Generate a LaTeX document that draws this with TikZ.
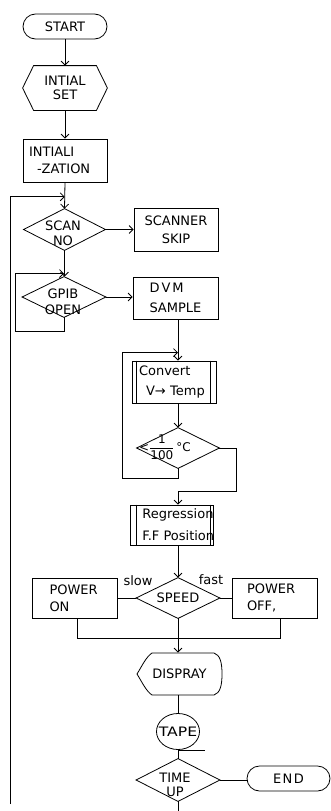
\documentclass[tikz,border=0pt]{standalone}
\usepackage{fontspec}
\usepackage{amsmath}
\usepackage{graphicx}
\setmainfont{DejaVu Sans}
\usetikzlibrary{arrows.meta,calc}
\newcommand\fz[2]{\fontsize{#1}{#2}\selectfont}
\newcommand\drawdiam[1]{\draw (#1.north) -- (#1.east) -- (#1.south) -- (#1.west) -- cycle;}
\begin{document}
\begin{tikzpicture}[x=1pt,y=-1pt,line width=0.8pt,
  arr/.style={-{Straight Barb[length=4pt,width=8pt]}},
  box/.style={draw, rectangle, inner sep=0pt, font=\fz{13}{18}},
  hid/.style={rectangle, inner sep=0pt, font=\fz{13}{16}},
  txt/.style={inner sep=0pt, align=center, font=\fz{13}{16}},
  term/.style={draw, rectangle, rounded corners=12.5pt, inner sep=0pt, font=\fz{13}{16}}]
\useasboundingbox (0,0) rectangle (331,811);
\coordinate (spine) at (178,0);
% START
\node[term, minimum width=84pt, minimum height=25pt] (start) at (65,26.5) {START};
% INTIAL SET hexagon
\node[hid, minimum width=84pt, minimum height=44pt, align=center, font=\fz{13}{14}] (init) at (65,88) {INTIAL\\SET};
\draw (init.west) -- ([xshift=11pt]init.north west) -- ([xshift=-11pt]init.north east) -- (init.east)
  -- ([xshift=-11pt]init.south east) -- ([xshift=11pt]init.south west) -- cycle;
% INTIALIZATION
\node[box, minimum width=84pt, minimum height=43pt, text width=72pt, align=left, font=\fz{13}{17}] (initz) at (65,160.5) {INTIALI\\\hspace*{8pt}-ZATION};
% SCAN NO
\node[hid, minimum width=81pt, minimum height=41pt] (scan) at (64.5,229.5) {};
\drawdiam{scan}
\node[txt, font=\fz{13}{15}] (scant) at (63,233) {SCAN\\NO};
\node[box, minimum width=84pt, minimum height=43pt, align=center] (skip) at (176,229.5) {SCANNER\\SKIP};
% GPIB OPEN
\node[hid, minimum width=83pt, minimum height=40pt] (gpib) at (64,297) {};
\drawdiam{gpib}
\node[txt] (gpibt) at (63,302) {GPIB\\OPEN};
\node[box, minimum width=85pt, minimum height=42pt, text width=52pt, align=left, font=\fz{13}{20}] (dvm) at (175.5,298) {D\kern2pt V\kern2pt M\\SAMPLE};
% Convert
\node[box, minimum width=84pt, minimum height=42pt, text width=70pt, align=left, font=\fz{13}{20}] (conv) at (174,382) {Convert\\\hspace*{7pt}V→ Temp};
\draw ([xshift=5pt]conv.north west) -- ([xshift=5pt]conv.south west);
\draw ([xshift=-6pt]conv.north east) -- ([xshift=-6pt]conv.south east);
% < 1/100 C
\node[hid, minimum width=82pt, minimum height=40pt] (lim) at (178,448) {};
\drawdiam{lim}
\node[txt, font=\fz{12}{14}] (limt) at (165,447) {<$\dfrac{\text{1}}{\text{100}}$\,°C};
% Regression
\node[box, minimum width=83pt, minimum height=40pt] (regr) at (171.5,525) {};
\draw ([xshift=7pt]regr.north west) -- ([xshift=7pt]regr.south west);
\draw ([xshift=-3.5pt]regr.north east) -- ([xshift=-3.5pt]regr.south east);
\node[txt, anchor=west, align=left, font=\fz{13}{22}] (regrt) at (142,524.3) {Regression\\F.F Position};
% SPEED
\node[hid, minimum width=83pt, minimum height=40pt] (speed) at (178,598) {SPEED};
\drawdiam{speed}
\node[box, minimum width=85pt, minimum height=40pt, text width=50pt, align=left, font=\fz{13}{17}] (pon) at (74.5,598) {POWER\\ON};
\node[box, minimum width=85pt, minimum height=40pt, text width=55pt, align=left, font=\fz{13}{17}] (poff) at (274.5,598) {POWER\\OFF,};
\node[txt] (slow) at (138,581) {slow};
\node[txt] (fast) at (211,580) {fast};
% DISPRAY
\node[hid, minimum width=85pt, minimum height=42pt] (disp) at (178,674) {\hspace*{3pt}DISPRAY};
\draw ($(disp.center)+(-26,-21)$) -- ($(disp.center)+(36,-21)$)
  .. controls +(6,2) and +(0,-12) .. ($(disp.center)+(44,0)$)
  .. controls +(0,12) and +(6,-2) .. ($(disp.center)+(36,21)$)
  -- ($(disp.center)+(-26,21)$)
  .. controls +(-6,-4) and +(5,8) .. ($(disp.center)+(-41,0)$)
  .. controls +(5,-8) and +(-6,4) .. cycle;
% TAPE
\node[hid, minimum width=43pt, minimum height=36pt] (tape) at (178,731.5) {\scalebox{1.2}[1]{TAPE}};
\draw (tape.center) ellipse [x radius=21.5pt, y radius=18pt];
\draw (tape.south) -- ++(27,0);
% TIME UP
\node[hid, minimum width=83pt, minimum height=42pt] (timeup) at (178,780) {};
\drawdiam{timeup}
\node[txt, font=\fz{13}{14}] (timeupt) at (175,785.3) {TIME\\UP};
\node[term, minimum width=83pt, minimum height=25pt] (endn) at (288.5,778.5) {E\kern1.5pt N\kern1.5pt D};
% connectors
\coordinate (lb) at (10,804);
\coordinate (bot) at (178,811);
\draw[arr] (start.south) -- (init.north);
\draw[arr] (init.south) -- (initz.north);
\draw[arr] (initz.south) -- (scan.north);
\draw[arr] (lb) |- ($(initz.south)!0.55!(scan.north)$);
\draw[arr] (scan.east) -- (scan.east -| skip.west);
\draw[arr] (scan.south) -- (scan.south |- gpib.north);
\draw[arr] (gpib.south) -- ++(0,14) -| ($(gpib.west)+(-7,0)$) |- ($(gpib.north)+(0,-3)$);
\draw[arr] (gpib.east) -- (gpib.east -| dvm.west);
\draw[arr] (dvm.south -| spine) -- (conv.north -| spine);
\draw[arr] (lim.south) -- ++(0,10) -| ($(conv.west)+(-9,0)$) |- ($(conv.north -| spine)+(0,-8)$);
\draw[arr] (conv.south -| spine) -- (lim.north);
\draw[arr] (lim.east) -- ++(17,0) |- ($(regr.north -| spine)+(0,-13)$) -- (regr.north -| spine);
\draw[arr] (regr.south -| spine) -- (speed.north);
\draw (speed.west) -- (pon.east);
\draw (speed.east) -- (poff.west);
\draw ([xshift=2.5pt]pon.south) -- ++(0,20) -| ([xshift=5.5pt]poff.south);
\draw[arr] (speed.south) -- (disp.north);
\draw (disp.south) -- (tape.north);
\draw (tape.south) -- (timeup.north);
\draw (timeup.east) -- (timeup.east -| endn.west);
\draw (timeup.south) -- (bot);
\end{tikzpicture}
\end{document}
